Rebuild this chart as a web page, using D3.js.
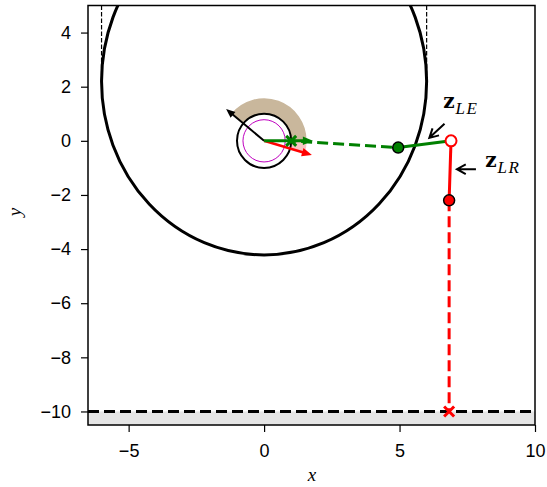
<!DOCTYPE html>
<html>
<head>
<meta charset="utf-8">
<script src="https://cdn.jsdelivr.net/npm/d3@7"></script>
<style>
  body { margin: 0; background: #fff; }
</style>
</head>
<body>
<script>
const w = 547;
const h = 487;

// data
const xTicks = [-5, 0, 5, 10];
const yTicks = [4, 2, 0, -2, -4, -6, -8, -10];
const bigCurve = [0, 2.2, 6.0, 6.41];        // cx, cy, rx, ry
const innerCircles = [[1.0, "black", 2], [0.78, "#bf00bf", 1]]; // r, colour, width
const tanWedge = [0, 140, 1.0, 1.57];        // from deg, to deg, r0, r1
const pinkWedge = [-16.5, 0, 1.0, 1.57];
const arrows = [
  {angle: 140, len: 1.83, color: "black", lw: 2, head: 9},
  {angle: -16.5, len: 1.84, color: "red", lw: 2.5, head: 10},
  {angle: 0, len: 1.8, color: "green", lw: 3, head: 10}
];
const greenDashed = [[1.0, 0], [4.95, -0.25]];
const greenSolid = [[4.95, -0.25], [6.9, 0]];
const redSolid = [[6.9, 0], [6.83, -2.2]];
const redDashed = [[6.83, -2.2], [6.83, -10]];
const floorY = -10;
const sideLines = [-6, 6];

const xScale = d3.scaleLinear().domain([-6.5, 10]).range([88, 535]);
const yScale = d3.scaleLinear().domain([-10.5, 5]).range([425, 5.5]);
const k = xScale(1) - xScale(0);

const svg = d3.select("body").append("svg")
  .attr("width", w).attr("height", h);

svg.append("defs").append("clipPath").attr("id", "clip")
  .append("rect")
  .attr("x", 88).attr("y", 5.5)
  .attr("width", 447).attr("height", 419.5);

const g = svg.append("g").attr("clip-path", "url(#clip)");

// floor area
g.append("rect")
  .attr("x", 88).attr("y", yScale(floorY))
  .attr("width", 447).attr("height", yScale(-10.5) - yScale(floorY))
  .attr("fill", "#e5e5e5");

const arc = d3.arc();
function wedge(wd, fill) {
  g.append("path")
    .attr("transform", `translate(${xScale(0)},${yScale(0)})`)
    .attr("d", arc({
      innerRadius: wd[2] * k, outerRadius: wd[3] * k,
      startAngle: (90 - wd[1]) * Math.PI / 180,
      endAngle: (90 - wd[0]) * Math.PI / 180
    }))
    .attr("fill", fill);
}
wedge(tanWedge, "#c9b79c");
wedge(pinkWedge, "#f7c6c2");

// dashed side lines
g.selectAll(".side").data(sideLines).enter().append("line")
  .attr("x1", d => xScale(d)).attr("x2", d => xScale(d))
  .attr("y1", yScale(5)).attr("y2", yScale(bigCurve[1]))
  .attr("stroke", "black").attr("stroke-width", 1.2)
  .attr("stroke-dasharray", "4.5,2");

// outer boundary
g.append("ellipse")
  .attr("cx", xScale(bigCurve[0])).attr("cy", yScale(bigCurve[1]))
  .attr("rx", bigCurve[2] * k).attr("ry", bigCurve[3] * k)
  .attr("fill", "none").attr("stroke", "black").attr("stroke-width", 3);

g.selectAll(".inner").data(innerCircles).enter().append("circle")
  .attr("cx", xScale(0)).attr("cy", yScale(0))
  .attr("r", d => d[0] * k)
  .attr("fill", "none").attr("stroke", d => d[1]).attr("stroke-width", d => d[2]);

// floor dashed line
g.append("line")
  .attr("x1", 88).attr("x2", 535)
  .attr("y1", yScale(floorY)).attr("y2", yScale(floorY))
  .attr("stroke", "black").attr("stroke-width", 3)
  .attr("stroke-dasharray", "11,5");

const line = d3.line().x(d => xScale(d[0])).y(d => yScale(d[1]));

g.append("path").attr("d", line(greenDashed))
  .attr("fill", "none").attr("stroke", "green").attr("stroke-width", 3)
  .attr("stroke-dasharray", "11,5").attr("stroke-dashoffset", -26);
g.append("path").attr("d", line(redDashed))
  .attr("fill", "none").attr("stroke", "red").attr("stroke-width", 3)
  .attr("stroke-dasharray", "11,5");

// arrows
arrows.forEach(a => {
  const t = a.angle * Math.PI / 180;
  const x0 = xScale(0), y0 = yScale(0);
  const x1 = xScale(a.len * Math.cos(t)), y1 = yScale(a.len * Math.sin(t));
  const ux = Math.cos(t), uy = -Math.sin(t);
  const bx = x1 - ux * a.head, by = y1 - uy * a.head;
  const hw = a.head * 0.42;
  g.append("line")
    .attr("x1", x0).attr("y1", y0).attr("x2", bx + ux * 2).attr("y2", by + uy * 2)
    .attr("stroke", a.color).attr("stroke-width", a.lw);
  g.append("path")
    .attr("d", `M${x1},${y1}L${bx - uy * hw},${by + ux * hw}L${bx + uy * hw},${by - ux * hw}Z`)
    .attr("fill", a.color);
});

g.append("path").attr("d", line(greenSolid))
  .attr("fill", "none").attr("stroke", "green").attr("stroke-width", 3);
g.append("path").attr("d", line(redSolid))
  .attr("fill", "none").attr("stroke", "red").attr("stroke-width", 3);

// cross markers
function cross(p, color) {
  const x = xScale(p[0]), y = yScale(p[1]), s = 5;
  g.append("path")
    .attr("d", `M${x - s},${y - s}L${x + s},${y + s}M${x - s},${y + s}L${x + s},${y - s}`)
    .attr("stroke", color).attr("stroke-width", 3);
}
cross(greenDashed[0], "green");
cross(redDashed[1], "red");

// point markers
g.append("circle")
  .attr("cx", xScale(greenSolid[0][0])).attr("cy", yScale(greenSolid[0][1])).attr("r", 5.5)
  .attr("fill", "green").attr("stroke", "black").attr("stroke-width", 1.5);
g.append("circle")
  .attr("cx", xScale(redSolid[1][0])).attr("cy", yScale(redSolid[1][1])).attr("r", 5.5)
  .attr("fill", "red").attr("stroke", "black").attr("stroke-width", 1.5);
g.append("circle")
  .attr("cx", xScale(redSolid[0][0])).attr("cy", yScale(redSolid[0][1])).attr("r", 5.5)
  .attr("fill", "white").attr("stroke", "red").attr("stroke-width", 2);

// annotations
const notes = [
  {text: ["z", "LE"], tx: 6.61, ty: 1.22, from: [6.66, 0.63], to: [6.1, 0.11]},
  {text: ["z", "LR"], tx: 8.16, ty: -0.96, from: [7.82, -1.05], to: [7.12, -1.05]}
];
notes.forEach(n => {
  const t = svg.append("text")
    .attr("x", xScale(n.tx)).attr("y", yScale(n.ty))
    .attr("font-family", "'DejaVu Serif', serif")
    .attr("font-size", 20);
  t.append("tspan").attr("font-weight", "bold").text(n.text[0]);
  t.append("tspan").attr("font-style", "italic").attr("font-size", 17)
    .attr("font-family", "'Liberation Serif', serif")
    .attr("letter-spacing", 1.5)
    .attr("dy", 6).attr("dx", 1).text(n.text[1]);
  const x0 = xScale(n.from[0]), y0 = yScale(n.from[1]);
  const x1 = xScale(n.to[0]), y1 = yScale(n.to[1]);
  const ang = Math.atan2(y1 - y0, x1 - x0);
  const hl = 10, hs = 0.5;
  svg.append("path")
    .attr("d", `M${x0},${y0}L${x1},${y1}` +
      `M${x1 - hl * Math.cos(ang - hs)},${y1 - hl * Math.sin(ang - hs)}L${x1},${y1}` +
      `L${x1 - hl * Math.cos(ang + hs)},${y1 - hl * Math.sin(ang + hs)}`)
    .attr("fill", "none").attr("stroke", "black").attr("stroke-width", 2);
});

// axes
const fmt = d => d < 0 ? "\u2212" + Math.abs(d) : d;
const xAxis = d3.axisBottom(xScale).tickValues(xTicks).tickSize(7).tickPadding(12).tickFormat(fmt);
const yAxis = d3.axisLeft(yScale).tickValues(yTicks).tickSize(7).tickPadding(10).tickFormat(fmt);

function styleAxis(s) {
  s.select(".domain").remove();
  s.selectAll("line").attr("stroke-width", 1.2);
  s.selectAll("text").attr("fill", "black")
    .attr("font-family", "'Liberation Sans', Arial, sans-serif")
    .attr("font-size", 18);
}
svg.append("g").attr("transform", "translate(0,425)").call(xAxis).call(styleAxis)
  .attr("font-size", 18);
svg.append("g").attr("transform", "translate(88,0)").call(yAxis).call(styleAxis)
  .attr("font-size", 18);

svg.append("rect")
  .attr("x", 88).attr("y", 5.5).attr("width", 447).attr("height", 419.5)
  .attr("fill", "none").attr("stroke", "black").attr("stroke-width", 1.5);

svg.append("text").attr("x", 312).attr("y", 481).attr("text-anchor", "middle")
  .attr("font-family", "'Liberation Serif', serif").attr("font-style", "italic")
  .attr("font-size", 19).text("x");
svg.append("text").attr("transform", "translate(21,212) rotate(-90)")
  .attr("text-anchor", "middle")
  .attr("font-family", "'Liberation Serif', serif").attr("font-style", "italic")
  .attr("font-size", 19).text("y");
</script>
</body>
</html>
